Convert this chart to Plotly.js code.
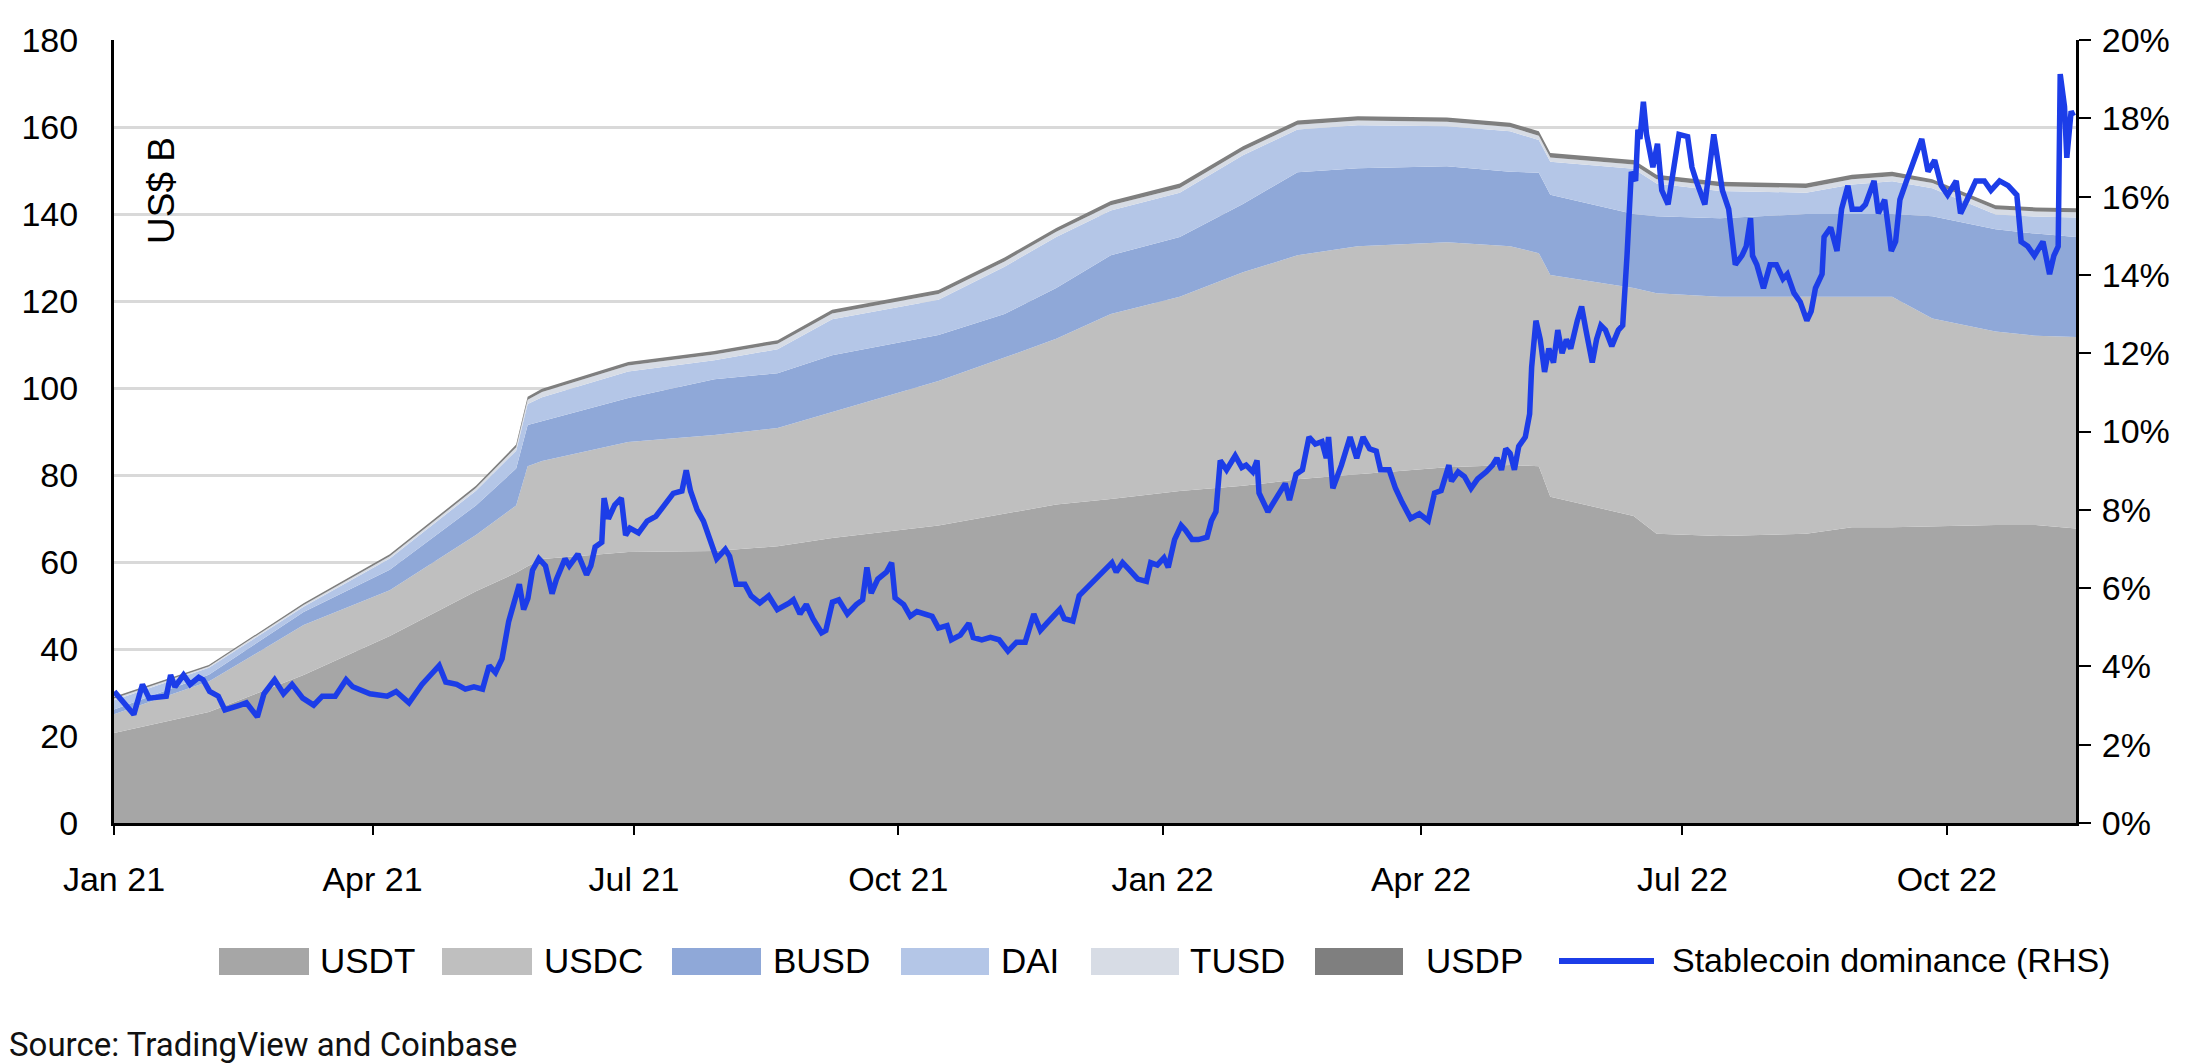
<!DOCTYPE html>
<html>
<head>
<meta charset="utf-8">
<script src="https://cdn.plot.ly/plotly-3.0.1.min.js"></script>
<style>
  html, body { margin: 0; padding: 0; background: #fff; }
  #chart { width: 2196px; height: 1064px; }
</style>
</head>
<body>
<div id="chart"></div>
<script>
// supply by coin, US$ B
var dates = ['2021-01-01','2021-02-03','2021-03-08','2021-04-07','2021-05-07','2021-05-21','2021-05-25','2021-05-30',
  '2021-06-29','2021-07-29','2021-08-20','2021-09-08','2021-10-15','2021-11-07','2021-11-25','2021-12-14',
  '2022-01-07','2022-01-29','2022-02-17','2022-03-10','2022-04-10','2022-05-02','2022-05-12','2022-05-16',
  '2022-06-14','2022-06-22','2022-07-14','2022-08-13','2022-08-29','2022-09-12','2022-09-26','2022-10-18',
  '2022-11-01','2022-11-15'];
var usdt = [20.7,25.5,34.0,43.0,53.3,57.5,59.0,60.7,62.3,62.5,63.6,65.5,68.4,71.0,73.2,74.5,
  76.3,77.5,79.0,80.2,81.8,82.3,82.0,75.0,70.6,66.5,66.0,66.5,68.0,68.0,68.2,68.5,68.5,67.7];
var usdc = [4.3,7.0,11.5,10.5,12.9,15.5,23.0,22.5,25.3,26.7,27.2,29.0,33.2,36.0,38.1,42.5,
  44.7,49.1,51.5,52.4,51.7,50.3,49.0,51.0,52.4,55.3,55.0,54.5,53.0,53.0,47.8,44.5,43.5,44.0];
var busd = [1.1,1.6,3.0,4.7,6.8,8.5,9.5,9.2,10.1,12.8,12.6,13.0,10.6,10.0,11.7,13.5,
  13.7,15.7,19.1,17.9,17.5,17.1,18.5,18.4,17.0,17.7,18.0,19.0,19.0,19.0,23.5,23.5,23.5,23.0];
var dai = [2.1,1.6,1.2,2.6,3.4,4.1,4.8,5.5,6.1,4.4,5.5,8.3,8.1,10.9,11.7,10.3,
  10.2,11.2,9.8,9.9,9.2,9.3,7.5,7.6,10.4,7.5,6.3,4.9,6.8,7.5,6.4,3.4,3.9,4.5];
var tusd = [0.4,0.3,0.4,0.5,0.6,0.8,1.0,1.2,1.4,1.3,1.3,1.3,1.3,1.2,1.2,1.2,
  1.1,1.1,1.1,1.1,1.0,1.0,1.0,1.0,1.0,1.0,1.1,1.1,1.2,1.2,1.2,1.2,1.2,1.2];
var usdp = [0.4,0.3,0.4,0.5,0.5,0.6,0.7,0.7,0.8,0.8,0.8,0.9,0.9,0.9,0.9,1.0,
  1.0,1.0,1.0,1.0,1.0,1.0,1.0,1.0,1.0,1.0,1.0,1.0,1.0,1.0,0.9,0.9,0.9,0.9];

// stablecoin dominance, % (RHS); days counted from 1 Jan 2021
var domDays = [0.1,3.1,6.9,9.9,12.2,18.2,19.7,21.2,24.2,26.5,29.5,31.0,33.3,36.3,38.6,43.9,46.1,49.9,52.2,55.9,
  59.0,62.0,65.7,69.5,72.5,77.0,80.8,83.1,89.1,95.1,98.2,102.7,107.2,110.2,113.2,115.5,119.3,122.3,125.3,128.3,
  130.6,132.8,135.1,137.4,139.6,141.1,142.6,144.1,145.7,147.9,150.2,152.5,154.0,157.0,158.5,161.5,164.5,166.0,167.5,169.8,
  170.6,172.1,174.3,176.6,178.1,179.6,182.6,185.6,188.6,191.7,194.7,197.7,199.2,200.7,203.0,205.2,208.3,209.8,212.8,214.3,
  216.6,219.6,221.8,224.8,227.9,230.9,235.1,236.5,238.8,241.0,243.3,246.3,247.8,250.1,252.3,255.3,258.4,260.6,262.1,263.6,
  265.9,268.9,270.7,271.9,274.9,277.2,279.5,282.5,284.8,287.0,290.0,291.5,294.6,297.6,299.1,302.1,305.1,308.1,311.2,314.2,
  317.2,320.2,322.5,324.7,327.0,329.3,330.8,333.8,336.0,339.1,342.8,345.8,347.4,348.9,351.1,353.4,356.4,359.4,360.9,363.2,
  365.5,367.0,369.2,371.5,373.0,375.3,377.5,380.5,382.0,383.6,385.1,387.3,390.3,392.6,394.1,396.4,397.9,398.6,401.7,404.7,
  407.7,409.2,411.5,413.7,416.0,418.2,420.5,422.0,422.8,424.3,427.3,430.3,432.6,434.8,437.1,439.4,440.9,443.9,446.1,448.4,
  451.4,454.4,457.5,459.7,462.0,464.7,465.6,467.9,470.1,472.4,474.7,477.7,479.9,481.4,483.0,484.5,486.0,487.5,489.0,491.3,
  492.8,493.5,495.0,496.5,498.0,499.5,501.1,502.6,504.1,505.6,507.1,509.4,510.9,512.4,514.6,516.1,517.6,519.2,521.4,523.7,
  525.2,526.7,528.2,529.7,530.5,531.2,532.4,533.5,535.7,537.3,538.8,541.0,543.3,544.8,547.8,549.3,550.8,553.8,556.9,559.9,
  562.1,564.4,566.7,568.2,569.7,570.4,571.9,574.2,576.5,578.7,581.0,582.5,584.8,587.0,589.3,590.8,592.3,594.6,595.3,597.6,
  599.8,601.4,603.6,605.1,608.1,609.7,612.7,614.2,616.4,618.7,620.2,621.7,624.0,626.2,629.3,631.5,633.8,636.1,638.3,641.3,
  642.8,645.1,648.1,651.1,653.4,656.4,659.4,662.4,663.9,666.2,668.5,671.5,673.8,675.3,676.8,677.5,679.0,679.8,681.3,682.1];
var domPct = [3.36,3.12,2.77,3.54,3.19,3.24,3.78,3.48,3.78,3.54,3.72,3.66,3.36,3.24,2.89,3.01,3.07,2.71,3.30,3.66,
  3.30,3.54,3.19,3.01,3.24,3.24,3.66,3.48,3.30,3.24,3.36,3.07,3.54,3.78,4.02,3.60,3.54,3.42,3.48,3.42,
  4.02,3.84,4.20,5.15,5.74,6.10,5.45,5.74,6.46,6.75,6.57,5.86,6.22,6.75,6.57,6.87,6.34,6.57,7.05,7.17,
  8.30,7.77,8.12,8.30,7.35,7.53,7.41,7.71,7.83,8.12,8.42,8.48,9.01,8.48,8.00,7.71,7.05,6.75,6.99,6.81,
  6.10,6.10,5.80,5.62,5.80,5.45,5.62,5.70,5.34,5.58,5.22,4.86,4.92,5.64,5.70,5.34,5.58,5.70,6.53,5.87,
  6.23,6.41,6.65,5.75,5.58,5.28,5.40,5.34,5.28,4.98,5.04,4.68,4.80,5.10,4.74,4.68,4.74,4.68,4.39,4.62,
  4.62,5.34,4.92,5.10,5.28,5.46,5.22,5.16,5.81,6.05,6.29,6.53,6.65,6.41,6.65,6.47,6.23,6.17,6.65,6.59,
  6.77,6.53,7.24,7.60,7.48,7.24,7.24,7.30,7.72,7.95,9.26,9.02,9.38,9.08,9.14,8.97,9.26,8.43,7.95,8.31,
  8.67,8.25,8.91,9.02,9.86,9.68,9.74,9.32,9.86,8.55,9.14,9.86,9.32,9.86,9.56,9.50,9.02,9.02,8.55,8.19,
  7.78,7.90,7.72,8.43,8.49,9.14,8.73,8.97,8.85,8.55,8.79,8.97,9.14,9.32,9.02,9.56,9.44,9.02,9.62,9.86,
  10.45,11.64,12.83,12.35,11.52,12.12,11.76,12.59,12.00,12.35,12.12,12.83,13.19,12.59,11.76,12.35,12.71,12.59,12.18,12.59,
  12.71,14.49,16.63,16.40,17.71,17.47,18.42,17.59,16.75,17.35,16.16,15.80,16.87,17.59,17.53,16.75,16.40,15.80,17.59,16.16,
  15.68,14.26,14.49,14.73,15.45,14.49,14.26,13.66,14.26,14.26,13.90,14.02,13.54,13.31,12.83,13.07,13.66,14.02,14.97,15.21,
  14.61,15.68,16.28,15.68,15.68,15.80,16.40,15.57,15.92,14.61,14.85,15.92,16.40,16.87,17.47,16.64,16.93,16.28,16.04,16.40,
  15.57,15.92,16.40,16.40,16.16,16.40,16.28,16.04,14.85,14.73,14.49,14.85,14.02,14.49,14.73,19.13,18.30,16.99,18.18,18.06];

var tickDates = ['2021-01-01','2021-04-01','2021-07-01','2021-10-01','2022-01-01','2022-04-01','2022-07-01','2022-10-01'];
var tickText = ['Jan 21','Apr 21','Jul 21','Oct 21','Jan 22','Apr 22','Jul 22','Oct 22'];

var coinNames = ['USDT','USDC','BUSD','DAI','TUSD','USDP'];
var coinColors = ['#a6a6a6','#bfbfbf','#8fa8d8','#b4c6e7','#d7dce5','#7f7f7f'];
var coinValues = [usdt, usdc, busd, dai, tusd, usdp];
var lineName = 'Stablecoin dominance (RHS)';
var lineColor = '#1c3de8';

var sans = '"Liberation Sans", Arial, sans-serif';

// day offset -> date string
function dayToDate(d) {
  var ms = Date.UTC(2021, 0, 1) + d * 86400000;
  return new Date(ms).toISOString().slice(0, 16).replace('T', ' ');
}

var traces = [];
for (var i = 0; i < coinNames.length; i++) {
  traces.push({
    x: dates,
    y: coinValues[i],
    name: coinNames[i],
    type: 'scatter',
    mode: 'lines',
    stackgroup: 'coins',
    line: {width: 0, color: coinColors[i]},
    fillcolor: coinColors[i],
    showlegend: false
  });
}
traces.push({
  x: domDays.map(dayToDate),
  y: domPct,
  name: lineName,
  type: 'scatter',
  mode: 'lines',
  yaxis: 'y2',
  line: {color: lineColor, width: 5.5},
  showlegend: false
});

// plot area in pixels: x 114..2076, y 40..823
function px(x) { return (x - 114) / 1962; }
function py(y) { return (823 - y) / 783; }

var shapes = [];
var annotations = [];

// legend drawn by hand so the swatches match
var swatchX = [[219,309],[442,532],[672,761],[901,989],[1091,1179],[1315,1403]];
var textX = [318, 542, 771, 999, 1188, 1424];
for (var j = 0; j < coinNames.length; j++) {
  shapes.push({
    type: 'rect', xref: 'paper', yref: 'paper',
    x0: px(swatchX[j][0]), x1: px(swatchX[j][1]), y0: py(975), y1: py(948),
    fillcolor: coinColors[j], line: {width: 0}
  });
  annotations.push({
    xref: 'paper', yref: 'paper', x: px(textX[j]), y: py(960),
    xanchor: 'left', yanchor: 'middle', showarrow: false,
    text: coinNames[j], font: {family: sans, size: 35, color: '#000'}
  });
}
shapes.push({
  type: 'line', xref: 'paper', yref: 'paper',
  x0: px(1559), x1: px(1654), y0: py(961), y1: py(961),
  line: {color: lineColor, width: 6}
});
annotations.push({
  xref: 'paper', yref: 'paper', x: px(1670), y: py(960),
  xanchor: 'left', yanchor: 'middle', showarrow: false,
  text: lineName, font: {family: sans, size: 34, color: '#000'}
});

annotations.push({
  xref: 'paper', yref: 'paper', x: px(161), y: py(191),
  xanchor: 'center', yanchor: 'middle', showarrow: false, textangle: -90,
  text: 'US$ B', font: {family: sans, size: 37, color: '#000'}
});
annotations.push({
  xref: 'paper', yref: 'paper', x: px(7), y: py(1044),
  xanchor: 'left', yanchor: 'middle', showarrow: false,
  text: 'Source: TradingView and Coinbase', font: {family: 'Roboto, "Open Sans", sans-serif', size: 33, color: '#111'}
});

var layout = {
  width: 2196,
  height: 1064,
  margin: {l: 114, r: 120, t: 40, b: 241},
  paper_bgcolor: '#fff',
  plot_bgcolor: '#fff',
  showlegend: false,
  xaxis: {
    type: 'date',
    range: ['2021-01-01', '2022-11-15'],
    tickvals: tickDates,
    ticktext: tickText,
    ticks: 'outside', ticklen: 9, tickwidth: 2, tickcolor: '#000',
    showline: true, linecolor: '#000', linewidth: 3,
    showgrid: false, zeroline: false,
    ticklabelstandoff: 15,
    tickfont: {family: sans, size: 34, color: '#000'}
  },
  yaxis: {
    range: [0, 180], dtick: 20,
    showgrid: true, gridcolor: '#d9d9d9', gridwidth: 3,
    showline: true, linecolor: '#000', linewidth: 3,
    zeroline: false, ticks: '',
    ticklabelstandoff: 26,
    tickfont: {family: sans, size: 34, color: '#000'}
  },
  yaxis2: {
    overlaying: 'y', side: 'right',
    range: [0, 20], dtick: 2, ticksuffix: '%',
    showgrid: false, zeroline: false,
    showline: true, linecolor: '#000', linewidth: 3,
    ticks: 'outside', ticklen: 12, tickwidth: 2, tickcolor: '#000',
    ticklabelstandoff: 4,
    tickfont: {family: sans, size: 34, color: '#000'}
  },
  shapes: shapes,
  annotations: annotations
};

Plotly.newPlot('chart', traces, layout, {staticPlot: true, displayModeBar: false});
</script>
</body>
</html>
